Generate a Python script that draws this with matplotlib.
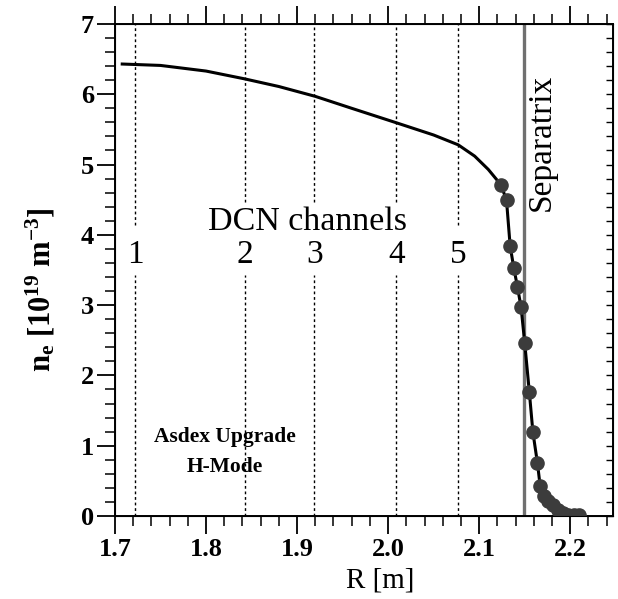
import matplotlib
matplotlib.use("Agg")
import matplotlib.pyplot as plt
from matplotlib.ticker import MultipleLocator

# ---- data ----
curve_R = [1.708, 1.75, 1.80, 1.842, 1.88, 1.92, 1.96, 2.01, 2.05, 2.077, 2.095,
           2.110, 2.124, 2.130, 2.134, 2.138, 2.142, 2.146, 2.150, 2.155, 2.159,
           2.164, 2.167, 2.172, 2.178, 2.185, 2.192, 2.200, 2.210]
curve_n = [6.43, 6.41, 6.33, 6.22, 6.11, 5.97, 5.80, 5.59, 5.42, 5.28, 5.12,
           4.93, 4.71, 4.49, 3.84, 3.53, 3.26, 2.97, 2.46, 1.77, 1.19,
           0.75, 0.42, 0.26, 0.17, 0.09, 0.04, 0.02, 0.01]

dots_R = [2.124, 2.130, 2.134, 2.138, 2.142, 2.146, 2.150, 2.155, 2.159, 2.164,
          2.167, 2.171, 2.176, 2.181, 2.186, 2.192, 2.198, 2.204, 2.210]
dots_n = [4.71, 4.49, 3.84, 3.53, 3.26, 2.97, 2.46, 1.77, 1.19, 0.75,
          0.42, 0.28, 0.21, 0.15, 0.08, 0.04, 0.02, 0.02, 0.02]

channel_R = [1.722, 1.843, 1.919, 2.009, 2.077]
channel_labels = ["1", "2", "3", "4", "5"]
separatrix_R = 2.149

plt.rcParams['font.family'] = ['Liberation Serif', 'DejaVu Serif']
plt.rcParams['mathtext.fontset'] = 'custom'
plt.rcParams['mathtext.rm'] = 'Liberation Serif:bold'
plt.rcParams['mathtext.it'] = 'Liberation Serif:bold'
plt.rcParams['mathtext.bf'] = 'Liberation Serif:bold'

fig = plt.figure(figsize=(6.18, 5.99), dpi=100)
ax = fig.add_axes([0.186, 0.1386, 0.806, 0.8214])

ax.set_xlim(1.7, 2.247)
ax.set_ylim(0, 7)

# channel lines with gaps for labels
for i, (r, lab) in enumerate(zip(channel_R, channel_labels)):
    top_end = 4.14 if i in (0, 4) else 4.47
    ax.plot([r, r], [top_end, 7], color='black', lw=1.0, ls=(0, (2, 2)))
    ax.plot([r, r], [0, 3.43], color='black', lw=1.0, ls=(0, (2, 2)))
    ax.text(r, 3.72, lab, ha='center', va='center', fontsize=24)

ax.text(1.911, 4.18, "DCN channels", ha='center', va='center', fontsize=24.5)

ax.axvline(separatrix_R, color='#707070', lw=2.4)
ax.text(2.168, 5.32, "Separatrix", rotation=90, ha='center', va='center', fontsize=24)

ax.plot(curve_R, curve_n, color='black', lw=2.2, zorder=3)
ax.plot(dots_R, dots_n, ls='none', marker='o', ms=9.5, color='#3c3c3c', zorder=4)

ax.text(1.821, 1.13, "Asdex Upgrade", ha='center', va='center', fontsize=15.5, fontweight='bold')
ax.text(1.821, 0.70, "H-Mode", ha='center', va='center', fontsize=15.5, fontweight='bold')

# ticks
ax.xaxis.set_major_locator(MultipleLocator(0.1))
ax.xaxis.set_minor_locator(MultipleLocator(0.02))
ax.yaxis.set_major_locator(MultipleLocator(1))
ax.yaxis.set_minor_locator(MultipleLocator(0.2))
ax.set_xticks([1.7, 1.8, 1.9, 2.0, 2.1, 2.2])
ax.set_xticklabels(["1.7", "1.8", "1.9", "2.0", "2.1", "2.2"])
ax.tick_params(axis='x', which='both', direction='out', top=True, bottom=True)
ax.tick_params(axis='y', which='both', direction='out', left=True, right=False)
ax.tick_params(which='major', length=13, width=1.3)
ax.tick_params(which='minor', length=7, width=1.1)
for lab in ax.get_xticklabels() + ax.get_yticklabels():
    lab.set_fontweight('bold')
    lab.set_fontsize(19)
ax.tick_params(axis='x', pad=3)
ax.tick_params(axis='y', pad=2)

# right side inward ticks
axr = ax.twinx()
axr.set_ylim(0, 7)
axr.yaxis.set_major_locator(MultipleLocator(1))
axr.yaxis.set_minor_locator(MultipleLocator(0.2))
axr.tick_params(axis='y', which='both', direction='in', length=5, width=1.0, labelright=False)

for s in ax.spines.values():
    s.set_linewidth(1.4)

ax.set_xlabel("R [m]", fontsize=21)
ax.xaxis.set_label_coords(0.532, -0.105)
ax.set_ylabel(r"n$_\mathregular{e}$ [10$^{19}$ m$^{-3}$]", fontsize=22, fontweight='bold')
ax.yaxis.set_label_coords(-0.115, 0.46)

fig.savefig("out.png", dpi=100)
